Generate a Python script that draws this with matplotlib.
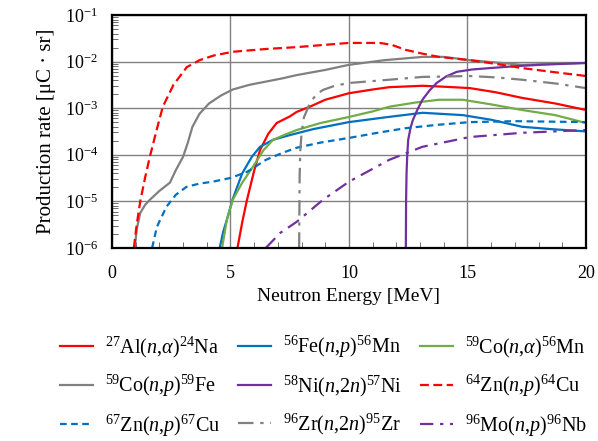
import matplotlib
matplotlib.use('Agg')
import matplotlib.pyplot as plt
import numpy as np
from matplotlib.ticker import FixedLocator, FuncFormatter

plt.rcParams['font.family'] = ['Liberation Serif', 'DejaVu Serif']
plt.rcParams['mathtext.fontset'] = 'custom'
plt.rcParams['mathtext.rm'] = 'Liberation Serif'
plt.rcParams['mathtext.it'] = 'Liberation Serif:italic'

# (energy MeV, log10 production rate)
al_e = [5.3, 5.5, 5.7, 6.0, 6.25, 6.6, 6.95, 7.5, 7.8, 8.35, 9.0, 10.0, 11.0, 11.7, 13.1,
        14.0, 15.1, 16.2, 17.3, 18.7, 20.0]
al_y = [-6.0, -5.45, -4.97, -4.35, -3.9, -3.55, -3.32, -3.18, -3.08, -2.97, -2.82, -2.68,
        -2.6, -2.55, -2.52, -2.54, -2.57, -2.66, -2.78, -2.9, -3.04]

fe_e = [4.55, 4.7, 4.85, 5.1, 5.5, 5.9, 6.25, 6.8, 7.5, 8.5, 10.0, 11.5, 13.1, 14.8,
        16.0, 17.3, 18.5, 20.0]
fe_y = [-6.0, -5.65, -5.4, -4.95, -4.4, -4.05, -3.83, -3.68, -3.58, -3.45, -3.3, -3.2,
        -3.1, -3.15, -3.25, -3.4, -3.45, -3.5]

coa_e = [4.65, 4.85, 5.1, 5.5, 5.95, 6.4, 6.8, 7.3, 7.8, 8.8, 10.0, 11.0, 11.7, 12.8,
         13.8, 14.8, 16.0, 17.3, 18.7, 20.0]
coa_y = [-6.0, -5.4, -4.97, -4.6, -4.26, -3.9, -3.68, -3.57, -3.47, -3.32, -3.19, -3.07,
         -2.97, -2.88, -2.82, -2.82, -2.92, -3.04, -3.15, -3.32]

cop_e = [0.97, 1.05, 1.2, 1.4, 1.6, 2.0, 2.45, 2.7, 3.0, 3.2, 3.4, 3.7, 4.1, 4.6, 5.1,
         5.8, 6.5, 7.2, 7.8, 9.0, 10.0, 11.5, 13.1, 14.0, 15.1, 16.2, 17.3, 18.5, 20.0]
cop_y = [-6.0, -5.6, -5.25, -5.08, -4.97, -4.78, -4.6, -4.33, -4.05, -3.75, -3.4, -3.12,
         -2.9, -2.73, -2.6, -2.5, -2.43, -2.36, -2.29, -2.18, -2.07, -1.97, -1.9, -1.9,
         -1.97, -2.02, -2.07, -2.05, -2.03]

ni_e = [12.4, 12.41, 12.43, 12.46, 12.5, 12.6, 12.7, 12.9, 13.1, 13.4, 13.7, 14.1,
        14.55, 15.2, 15.95, 17.0, 18.05, 19.0, 20.0]
ni_y = [-6.0, -5.0, -4.4, -4.0, -3.68, -3.42, -3.25, -3.02, -2.82, -2.62, -2.46, -2.32,
        -2.22, -2.17, -2.14, -2.1, -2.07, -2.05, -2.03]

zn64_e = [0.93, 1.05, 1.2, 1.4, 1.6, 1.9, 2.15, 2.6, 3.16, 3.7, 4.3, 5.1, 6.5, 7.8,
          9.0, 10.0, 11.3, 11.8, 12.4, 13.1, 13.8, 15.1, 16.2, 17.3, 18.7, 20.0]
zn64_y = [-6.0, -5.5, -5.0, -4.5, -4.05, -3.45, -2.97, -2.5, -2.12, -1.97, -1.87, -1.79,
          -1.73, -1.69, -1.64, -1.6, -1.6, -1.64, -1.75, -1.83, -1.9, -1.97, -2.05,
          -2.14, -2.23, -2.31]

zn67_e = [1.7, 1.9, 2.3, 2.7, 3.15, 3.7, 4.25, 5.0, 5.7, 6.5, 7.2, 7.8, 8.8, 10.0,
          11.2, 12.4, 13.7, 15.1, 17.0, 18.5, 20.0]
zn67_y = [-6.0, -5.55, -5.12, -4.86, -4.69, -4.62, -4.58, -4.5, -4.37, -4.11, -3.96,
          -3.85, -3.74, -3.64, -3.53, -3.43, -3.36, -3.3, -3.28, -3.29, -3.3]

zr_e = [7.9, 7.92, 7.95, 8.0, 8.1, 8.35, 8.6, 8.9, 9.4, 10.0, 11.7, 13.1, 15.1, 16.2,
        17.3, 18.7, 20.0]
zr_y = [-6.0, -4.5, -3.9, -3.55, -3.2, -2.9, -2.72, -2.61, -2.52, -2.46, -2.39, -2.33,
        -2.31, -2.34, -2.39, -2.47, -2.57]

mo_e = [6.5, 7.1, 7.8, 8.9, 10.0, 11.7, 13.1, 15.1, 17.3, 20.0]
mo_y = [-6.0, -5.68, -5.44, -4.97, -4.58, -4.11, -3.83, -3.62, -3.53, -3.47]

labels = [
    r'$^{27}$Al($n$,$\alpha$)$^{24}$Na',
    r'$^{56}$Fe($n$,$p$)$^{56}$Mn',
    r'$^{59}$Co($n$,$\alpha$)$^{56}$Mn',
    r'$^{59}$Co($n$,$p$)$^{59}$Fe',
    r'$^{58}$Ni($n$,2$n$)$^{57}$Ni',
    r'$^{64}$Zn($n$,$p$)$^{64}$Cu',
    r'$^{67}$Zn($n$,$p$)$^{67}$Cu',
    r'$^{96}$Zr($n$,2$n$)$^{95}$Zr',
    r'$^{96}$Mo($n$,$p$)$^{96}$Nb',
]

RED = '#FF0000'
BLUE = '#0070C0'
GREEN = '#70AD47'
GREY = '#808080'
PURPLE = '#7030A0'

series = [
    (al_e, al_y, RED, '-'),
    (fe_e, fe_y, BLUE, '-'),
    (coa_e, coa_y, GREEN, '-'),
    (cop_e, cop_y, GREY, '-'),
    (ni_e, ni_y, PURPLE, '-'),
    (zn64_e, zn64_y, RED, (0, (4, 2))),
    (zn67_e, zn67_y, BLUE, (0, (3, 2))),
    (zr_e, zr_y, GREY, (0, (7, 3, 1.5, 3))),
    (mo_e, mo_y, PURPLE, (0, (6, 3, 1.5, 3))),
]

fig = plt.figure(figsize=(5.98, 4.41), dpi=100)
ax = fig.add_axes([0.187, 0.438, 0.793, 0.528])

handles = []
for (e, y, c, ls), lab in zip(series, labels):
    h, = ax.plot(e, 10 ** np.array(y), color=c, ls=ls, lw=1.6, label=lab)
    handles.append(h)

ax.set_yscale('log')
ax.set_xlim(0, 20)
ax.set_ylim(1e-6, 1e-1)
ax.set_xticks([0, 5, 10, 15, 20])
ax.xaxis.set_minor_locator(FixedLocator(np.arange(0, 21, 1)))
ax.set_yticks([10.0 ** k for k in range(-6, 0)])
ax.yaxis.set_major_formatter(FuncFormatter(
    lambda v, p: r'$\mathregular{10^{%d}}$' % round(np.log10(v))))
ax.grid(True, which='major', color='#808080', lw=1.0)
ax.tick_params(which='major', length=0, labelsize=13)
ax.tick_params(axis='x', which='major', pad=12)
ax.tick_params(axis='y', which='major', pad=10)
ax.tick_params(which='minor', direction='in', length=4, width=0.6, color='#555555')
for s in ax.spines.values():
    s.set_linewidth(1.6)
ax.set_axisbelow(True)

ax.set_xlabel('Neutron Energy [MeV]', fontsize=14, labelpad=5)
ax.set_ylabel('Production rate [μC · sr]', fontsize=15, labelpad=6)

order = [0, 3, 6, 1, 4, 7, 2, 5, 8]
fig.legend([handles[i] for i in order], [labels[i] for i in order],
           ncol=3, loc='upper left', bbox_to_anchor=(60 / 598, 1 - 334 / 441),
           frameon=False, fontsize=14.5, handlelength=1.65, borderpad=0,
           borderaxespad=0, columnspacing=0.85, labelspacing=0.66,
           handletextpad=0.6)

fig.savefig('out.png', dpi=100)
